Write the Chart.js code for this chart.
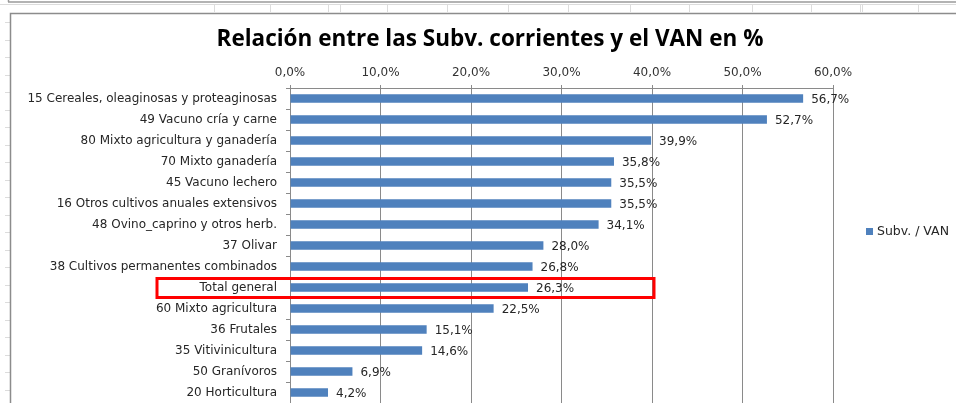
<!DOCTYPE html>
<html>
<head>
<meta charset="utf-8">
<script src="https://cdn.jsdelivr.net/npm/chart.js@4/dist/chart.umd.min.js"></script>
<style>
  html, body { margin: 0; padding: 0; background: #fff; }
  #wrap { width: 956px; height: 403px; position: relative; }
</style>
</head>
<body>
<div id="wrap"><canvas id="c" width="956" height="403"></canvas></div>
<script>
const categories = [
  "15 Cereales, oleaginosas y proteaginosas",
  "49 Vacuno cría y carne",
  "80 Mixto agricultura y ganadería",
  "70 Mixto ganadería",
  "45 Vacuno lechero",
  "16 Otros cultivos anuales extensivos",
  "48 Ovino_caprino y otros herb.",
  "37 Olivar",
  "38 Cultivos permanentes combinados",
  "Total general",
  "60 Mixto agricultura",
  "36 Frutales",
  "35 Vitivinicultura",
  "50 Granívoros",
  "20 Horticultura"
];
const seriesName = "Subv. / VAN";
const values = [56.7, 52.7, 39.9, 35.8, 35.5, 35.5, 34.1, 28.0, 26.8, 26.3, 22.5, 15.1, 14.6, 6.9, 4.2];
const xTicks = [0, 10, 20, 30, 40, 50, 60];
const highlighted = "Total general";
const titleText = "Relación entre las Subv. corrientes y el VAN en %";

const BLUE = "#4F81BD";
const GRID = "#8a8a8a";
const FONT = "'DejaVu Sans', sans-serif";
const fmt = v => v.toFixed(1).replace('.', ',') + '%';

const framePlugin = {
  id: 'frame',
  afterLayout(chart) {
    if (chart.titleBlock) {
      chart.titleBlock.left = 24;
      chart.titleBlock.right = 956;
      chart.titleBlock.width = 932;
    }
  },
  beforeDraw(chart) {
    const ctx = chart.ctx;
    ctx.save();
    ctx.fillStyle = '#fff';
    ctx.fillRect(0, 0, chart.width, chart.height);
    ctx.strokeStyle = '#9a9a9a';
    ctx.lineWidth = 1.5;
    ctx.beginPath(); ctx.moveTo(8, 2); ctx.lineTo(chart.width, 2); ctx.stroke();
    ctx.beginPath(); ctx.moveTo(8.5, 0); ctx.lineTo(8.5, 2); ctx.stroke();
    ctx.strokeStyle = '#dcdcdc';
    ctx.lineWidth = 1;
    ctx.beginPath(); ctx.moveTo(0, 4.5); ctx.lineTo(chart.width, 4.5); ctx.stroke();
    [214, 270, 328, 340, 387, 447, 508, 568, 630, 689, 752, 811, 860, 862, 918].forEach(x => {
      ctx.beginPath(); ctx.moveTo(x + 0.5, 5); ctx.lineTo(x + 0.5, 12); ctx.stroke();
    });
    for (let y = 22; y < chart.height; y += 17.5) {
      ctx.beginPath(); ctx.moveTo(5, Math.round(y) + 0.5); ctx.lineTo(10, Math.round(y) + 0.5); ctx.stroke();
    }
    ctx.strokeStyle = '#8c8c8c';
    ctx.lineWidth = 1.5;
    ctx.beginPath();
    ctx.moveTo(10.5, chart.height + 2);
    ctx.lineTo(10.5, 13.5);
    ctx.lineTo(chart.width + 2, 13.5);
    ctx.stroke();
    ctx.restore();
  }
};

const labelsPlugin = {
  id: 'barLabels',
  afterDatasetsDraw(chart) {
    const ctx = chart.ctx;
    const meta = chart.getDatasetMeta(0);
    ctx.save();
    ctx.font = '12px ' + FONT;
    ctx.fillStyle = '#262626';
    ctx.textAlign = 'left';
    ctx.textBaseline = 'middle';
    meta.data.forEach((bar, i) => {
      ctx.fillText(fmt(values[i]), bar.x + 8, bar.y + 1.5);
    });
    ctx.restore();
  }
};

const legendPlugin = {
  id: 'sideLegend',
  afterDraw(chart) {
    const ctx = chart.ctx;
    const ds = chart.data.datasets[0];
    ctx.save();
    ctx.fillStyle = ds.backgroundColor;
    ctx.fillRect(866, 228, 7, 7);
    ctx.font = '12.5px ' + FONT;
    ctx.fillStyle = '#262626';
    ctx.textAlign = 'left';
    ctx.textBaseline = 'middle';
    ctx.fillText(ds.label, 877, 232);
    ctx.restore();
  }
};

const highlightPlugin = {
  id: 'highlight',
  afterDraw(chart) {
    const ys = chart.scales.y, xs = chart.scales.x;
    const idx = categories.indexOf(highlighted);
    if (idx < 0) return;
    const cy = ys.getPixelForValue(idx);
    const ctx = chart.ctx;
    ctx.save();
    ctx.strokeStyle = '#ff0000';
    ctx.lineWidth = 3;
    ctx.strokeRect(157, cy - 9, xs.getPixelForValue(40) + 2 - 157, 19);
    ctx.restore();
  }
};

new Chart(document.getElementById('c'), {
  type: 'bar',
  data: {
    labels: categories,
    datasets: [{
      label: seriesName,
      data: values,
      backgroundColor: BLUE,
      borderWidth: 0,
      barPercentage: 0.4,
      categoryPercentage: 1.0
    }]
  },
  options: {
    indexAxis: 'y',
    responsive: false,
    animation: false,
    devicePixelRatio: 1,
    layout: { padding: { top: 26.5, left: 12, right: 123, bottom: 0 } },
    plugins: {
      legend: { display: false },
      tooltip: { enabled: false },
      title: {
        display: true,
        text: titleText,
        color: '#000',
        font: { family: "'Open Sans'", size: 22.5, weight: 'bold', lineHeight: 1.2 },
        padding: { top: 0, bottom: 0 }
      }
    },
    scales: {
      x: {
        position: 'top',
        min: 0,
        max: 60,
        afterBuildTicks: s => { s.ticks = xTicks.map(v => ({ value: v })); },
        afterFit: s => { s.height = 88 - 53.5; },
        ticks: {
          callback: v => fmt(v),
          color: '#333',
          font: { family: FONT, size: 12 },
          padding: 5,
          maxRotation: 0
        },
        grid: { color: GRID, lineWidth: 1, tickLength: 3, drawTicks: true },
        border: { display: true, color: GRID, width: 1 }
      },
      y: {
        afterFit: s => { s.width = 290 - 12; s.paddingTop = 0; s.paddingBottom = 0; },
        ticks: {
          color: '#262626',
          font: { family: FONT, size: 12 },
          padding: 9,
          autoSkip: false
        },
        grid: { drawOnChartArea: false, drawTicks: true, tickLength: 4, color: GRID, offset: true },
        border: { display: true, color: GRID, width: 1 }
      }
    }
  },
  plugins: [framePlugin, labelsPlugin, legendPlugin, highlightPlugin]
});
</script>
</body>
</html>
